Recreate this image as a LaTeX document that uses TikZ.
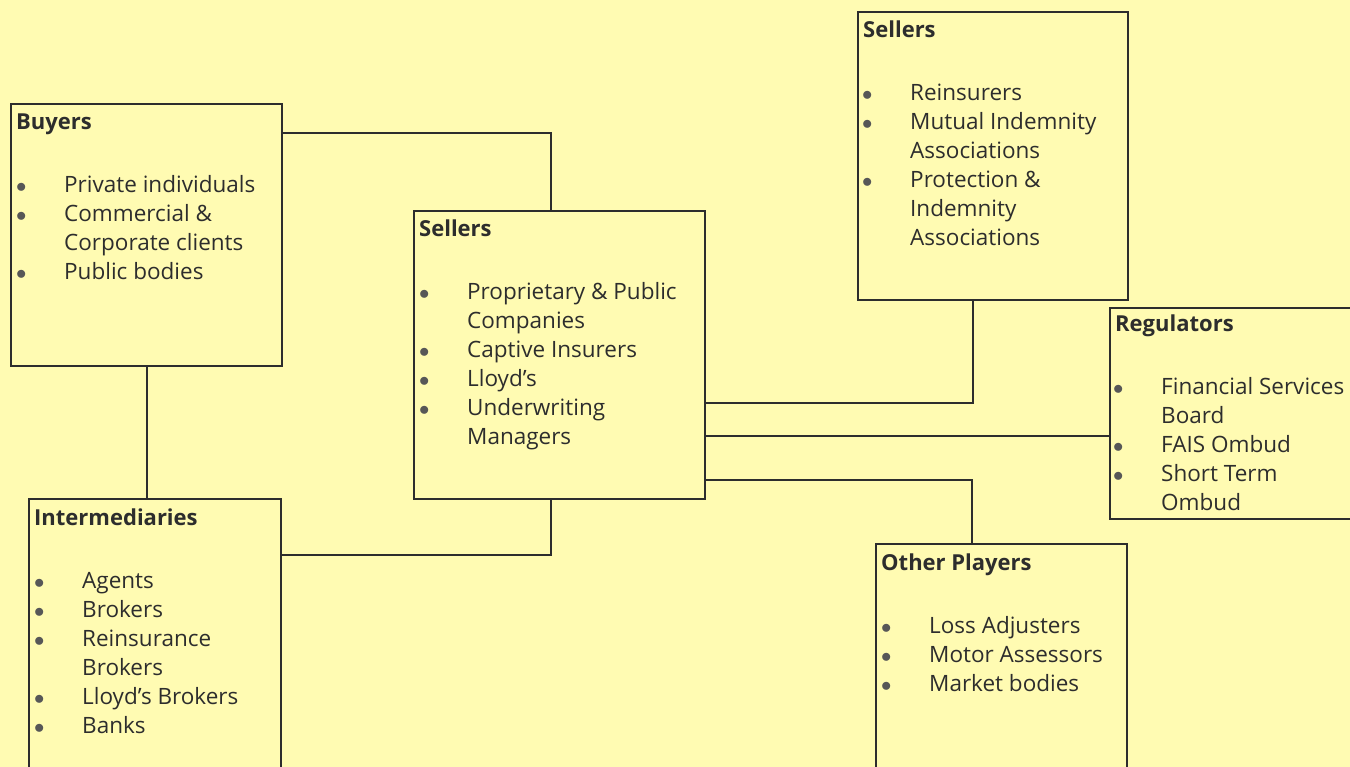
\documentclass[tikz,border=0pt]{standalone}
\usepackage{fontspec}
\setmainfont{Open Sans}
\usetikzlibrary{calc}
\definecolor{paper}{RGB}{255,251,178}
\definecolor{ink}{RGB}{45,45,45}
\tikzset{
    box/.style = {rectangle, draw=ink, line width=2pt, fill=paper, inner sep=0pt, anchor=north west},
    boxtitle/.style = {anchor=base west, inner sep=0pt, text=ink, font=\fontsize{22}{29}\selectfont\bfseries},
    boxlist/.style = {anchor=base west, inner sep=0pt, text=ink, font=\fontsize{22.5}{29}\selectfont},
    link/.style = {draw=ink, line width=2pt},
}
\newcommand{\bl}{\textcolor{ink!80}{$\bullet$}}
\newcommand{\itemlist}[1]{\begin{tabular}[t]{@{}p{48pt}@{}l@{}}#1\end{tabular}}

\begin{document}
\begin{tikzpicture}[x=1pt,y=-1pt]
\useasboundingbox (0,0) rectangle (1350,767);
\clip (0,0) rectangle (1350,767);
\fill[paper] (0,0) rectangle (1350,767);
%
\node[box, minimum width=271pt, minimum height=262pt] at (10,103) (buyers) {};
\node[box, minimum width=291pt, minimum height=288pt] at (413,210) (sellA) {};
\node[box, minimum width=270pt, minimum height=288pt] at (857,11) (sellB) {};
\node[box, minimum width=262pt, minimum height=211pt] at (1109,307) (reg) {};
\node[box, minimum width=252pt, minimum height=300pt] at (28,498) (inter) {};
\node[box, minimum width=251pt, minimum height=260pt] at (875,543) (other) {};
%
\node[boxtitle] at (16,130) (buyersT) {Buyers};
\node[boxlist] at (16,193) (buyersL) {\itemlist{\bl & Private individuals\\ \bl & Commercial \&\\ & Corporate clients\\ \bl & Public bodies}};
\node[boxtitle] at (419,237) (sellAT) {Sellers};
\node[boxlist] at (419,300) (sellAL) {\itemlist{\bl & Proprietary \& Public\\ & Companies\\ \bl & Captive Insurers\\ \bl & Lloyd’s\\ \bl & Underwriting\\ & Managers}};
\node[boxtitle] at (863,38) (sellBT) {Sellers};
\node[boxlist] at (862,101) (sellBL) {\itemlist{\bl & Reinsurers\\ \bl & Mutual Indemnity\\ & Associations\\ \bl & Protection \&\\ & Indemnity\\ & Associations}};
\node[boxtitle] at (1115,332) (regT) {Regulators};
\node[boxlist] at (1113,395) (regL) {\itemlist{\bl & Financial Services\\ & Board\\ \bl & FAIS Ombud\\ \bl & Short Term\\ & Ombud}};
\node[boxtitle] at (34,525) (interT) {Intermediaries};
\node[boxlist] at (34,588) (interL) {\itemlist{\bl & Agents\\ \bl & Brokers\\ \bl & Reinsurance\\ & Brokers\\ \bl & Lloyd’s Brokers\\ \bl & Banks}};
\node[boxtitle] at (881,570) (otherT) {Other Players};
\node[boxlist] at (881,633) (otherL) {\itemlist{\bl & Loss Adjusters\\ \bl & Motor Assessors\\ \bl & Market bodies}};
%
\draw[link] ([yshift=-30pt]buyers.north east) -| ([xshift=-9pt]sellA.north);
\draw[link] (buyers.south) -- (buyers.south |- inter.north);
\draw[link] ([yshift=-57pt]inter.north east) -| ([xshift=-9pt]sellA.south);
\draw[link] ([yshift=-193pt]sellA.north east) -| ([xshift=-20pt]sellB.south);
\coordinate (regin) at ([yshift=-22.5pt]reg.west);
\draw[link] (regin -| sellA.east) -- (regin);
\draw[link] ([yshift=-270pt]sellA.north east) -| ([xshift=-30pt]other.north);
\end{tikzpicture}
\end{document}
